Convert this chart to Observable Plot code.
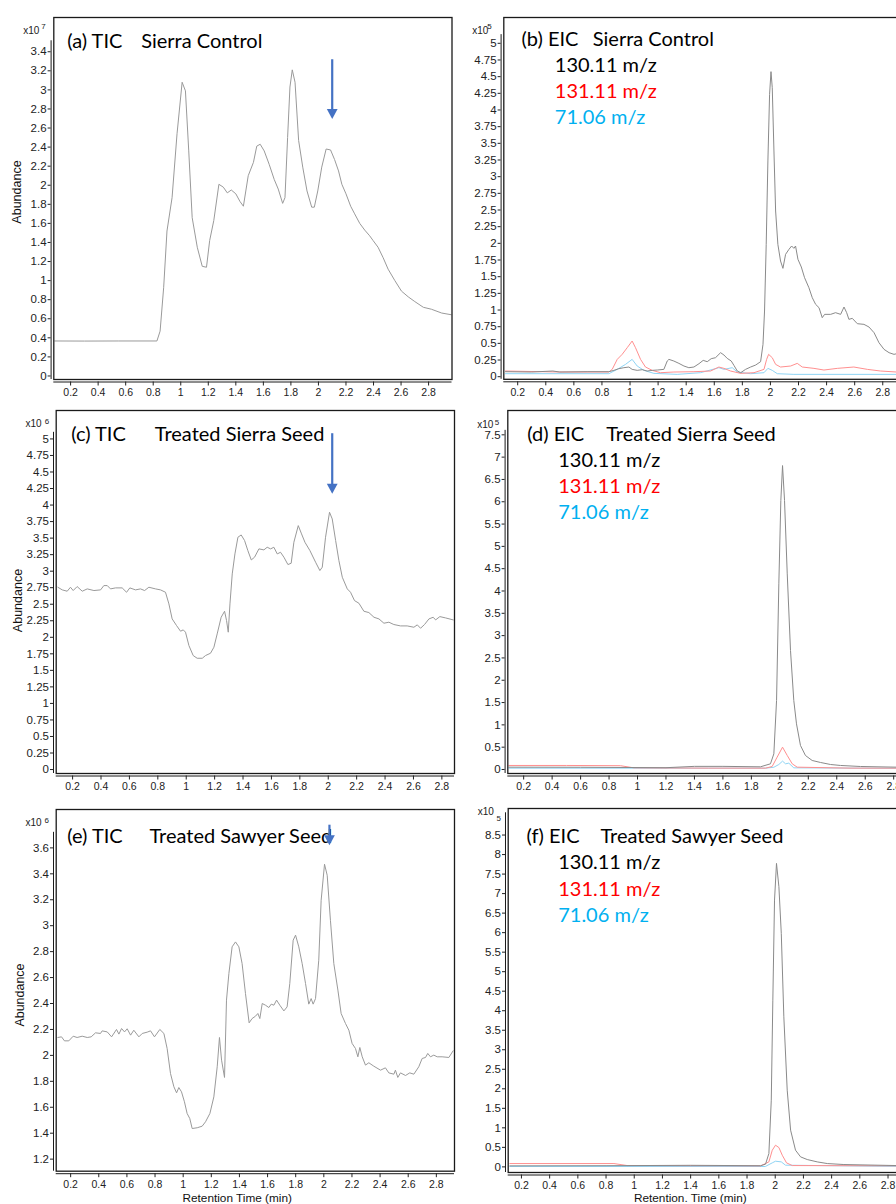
<!DOCTYPE html>
<html>
<head>
<meta charset="utf-8">
<script src="https://cdn.jsdelivr.net/npm/d3@7"></script>
<script src="https://cdn.jsdelivr.net/npm/@observablehq/plot@0.6"></script>
<style>
html, body { margin: 0; padding: 0; background: #fff; overflow: hidden; }
#fig { position: relative; width: 896px; height: 1204px; overflow: hidden; background: #fff; }
.panel { position: absolute; }
</style>
</head>
<body>
<div id="fig"></div>
<script>
// ---------------- DATA ----------------
const xTicks = [0.2, 0.4, 0.6, 0.8, 1, 1.2, 1.4, 1.6, 1.8, 2, 2.2, 2.4, 2.6, 2.8];
const yTicksA = d3.range(0, 3.41, 0.2);
const yTicksB = d3.range(0, 5.01, 0.25);
const yTicksC = d3.range(0, 5.01, 0.25);
const yTicksD = d3.range(0, 7.51, 0.5);
const yTicksE = d3.range(1.2, 3.61, 0.2);
const yTicksF = d3.range(0, 8.51, 0.5);

const titles = ["(a) TIC", "(b) EIC", "(c) TIC", "(d) EIC", "(e) TIC", "(f) EIC"];
const samples = ["Sierra Control", "Sierra Control", "Treated Sierra Seed", "Treated Sierra Seed", "Treated Sawyer Seed", "Treated Sawyer Seed"];
const ionLabels = ["130.11 m/z", "131.11 m/z", "71.06 m/z"];
const exponents = ["7", "5", "6", "5", "6", "5"];
const yTitle = "Abundance";
const xTitles = ["Retention Time (min)", "Retention. Time (min)"];

// (a) TIC Sierra Control, x10^7 [time min, abundance]
const ticSierraControl = [[0.085,0.367],[0.30,0.366],[0.55,0.367],[0.827,0.367],[0.85,0.47],[0.876,0.93],[0.90,1.52],[0.937,1.87],[0.973,2.54],[1.01,3.08],[1.034,2.99],[1.058,2.36],[1.083,1.66],[1.12,1.35],[1.156,1.15],[1.187,1.14],[1.21,1.42],[1.24,1.63],[1.277,2.01],[1.309,1.98],[1.338,1.92],[1.367,1.95],[1.40,1.91],[1.43,1.83],[1.455,1.78],[1.49,2.10],[1.528,2.24],[1.552,2.41],[1.577,2.43],[1.606,2.36],[1.642,2.22],[1.679,2.06],[1.708,1.96],[1.74,1.81],[1.757,1.87],[1.776,2.50],[1.793,3.03],[1.81,3.21],[1.83,3.08],[1.856,2.47],[1.886,2.19],[1.917,1.94],[1.951,1.77],[1.97,1.77],[1.995,1.94],[2.024,2.19],[2.056,2.38],[2.088,2.37],[2.117,2.27],[2.146,2.15],[2.17,2.01],[2.20,1.91],[2.234,1.78],[2.263,1.70],[2.30,1.60],[2.336,1.53],[2.372,1.47],[2.397,1.42],[2.433,1.35],[2.47,1.24],[2.506,1.12],[2.555,1.00],[2.603,0.89],[2.652,0.83],[2.70,0.78],[2.762,0.72],[2.82,0.70],[2.895,0.66],[2.973,0.64]];

// (b) EIC Sierra Control, x10^5
const eicSierra130 = [[0.113,0.075],[0.3,0.07],[0.45,0.085],[0.5,0.07],[0.7,0.075],[0.849,0.075],[0.885,0.095],[0.920,0.12],[0.956,0.135],[0.992,0.145],[1.015,0.11],[1.051,0.095],[1.087,0.105],[1.122,0.085],[1.158,0.095],[1.194,0.10],[1.241,0.11],[1.265,0.235],[1.277,0.26],[1.312,0.235],[1.348,0.20],[1.384,0.16],[1.419,0.135],[1.455,0.145],[1.491,0.195],[1.521,0.245],[1.550,0.225],[1.578,0.27],[1.609,0.285],[1.645,0.36],[1.669,0.325],[1.692,0.275],[1.721,0.235],[1.740,0.17],[1.764,0.085],[1.788,0.06],[1.823,0.11],[1.859,0.145],[1.895,0.175],[1.930,0.225],[1.947,0.485],[1.958,0.985],[1.970,1.985],[1.982,3.235],[1.994,4.235],[2.004,4.575],[2.013,4.335],[2.025,3.385],[2.037,2.485],[2.053,1.985],[2.072,1.735],[2.089,1.625],[2.108,1.835],[2.132,1.91],[2.151,1.96],[2.167,1.925],[2.179,1.96],[2.196,1.76],[2.220,1.645],[2.243,1.485],[2.274,1.335],[2.298,1.185],[2.322,1.085],[2.346,1.035],[2.369,0.885],[2.386,0.935],[2.429,0.935],[2.464,0.96],[2.500,0.935],[2.524,1.045],[2.543,0.96],[2.559,0.86],[2.583,0.875],[2.619,0.795],[2.666,0.785],[2.702,0.745],[2.738,0.66],[2.773,0.51],[2.809,0.41],[2.845,0.36],[2.880,0.335],[2.899,0.345],[2.95,0.33]];
const eicSierra131 = [[0.113,0.085],[0.5,0.07],[0.849,0.07],[0.873,0.11],[0.909,0.26],[0.944,0.335],[0.980,0.435],[1.015,0.535],[1.039,0.435],[1.075,0.26],[1.110,0.145],[1.158,0.095],[1.217,0.06],[1.312,0.07],[1.455,0.075],[1.574,0.085],[1.633,0.145],[1.669,0.125],[1.716,0.085],[1.788,0.05],[1.883,0.06],[1.954,0.11],[1.973,0.26],[1.987,0.335],[2.013,0.285],[2.037,0.185],[2.072,0.145],[2.144,0.16],[2.191,0.20],[2.227,0.145],[2.310,0.125],[2.381,0.10],[2.476,0.125],[2.594,0.145],[2.690,0.11],[2.785,0.085],[2.899,0.07],[2.95,0.07]];
const eicSierra71 = [[0.113,0.045],[0.849,0.045],[0.909,0.11],[0.968,0.185],[1.015,0.26],[1.051,0.16],[1.099,0.095],[1.170,0.05],[1.336,0.035],[1.502,0.06],[1.633,0.135],[1.669,0.11],[1.728,0.135],[1.764,0.07],[1.859,0.045],[1.954,0.06],[1.982,0.125],[2.013,0.095],[2.049,0.045],[2.167,0.035],[2.95,0.035]];

// (c) TIC Treated Sierra Seed, x10^6
const ticSierraSeed = [[0.096,2.757],[0.127,2.717],[0.162,2.697],[0.185,2.757],[0.204,2.707],[0.232,2.767],[0.268,2.697],[0.303,2.732],[0.35,2.707],[0.397,2.717],[0.42,2.782],[0.444,2.782],[0.467,2.732],[0.502,2.747],[0.549,2.747],[0.58,2.681],[0.603,2.747],[0.643,2.717],[0.678,2.732],[0.707,2.707],[0.737,2.757],[0.784,2.732],[0.819,2.717],[0.854,2.681],[0.878,2.505],[0.901,2.278],[0.932,2.177],[0.96,2.092],[0.979,2.112],[0.995,2.077],[1.019,1.875],[1.049,1.724],[1.077,1.683],[1.113,1.683],[1.136,1.724],[1.171,1.759],[1.195,1.85],[1.218,2.051],[1.246,2.303],[1.27,2.394],[1.284,2.253],[1.296,2.077],[1.308,2.505],[1.324,2.959],[1.343,3.261],[1.364,3.513],[1.387,3.548],[1.411,3.463],[1.434,3.311],[1.458,3.17],[1.481,3.211],[1.512,3.337],[1.547,3.322],[1.57,3.362],[1.594,3.337],[1.617,3.362],[1.641,3.261],[1.664,3.286],[1.688,3.211],[1.716,3.1],[1.739,3.12],[1.758,3.437],[1.789,3.689],[1.812,3.564],[1.836,3.437],[1.871,3.311],[1.911,3.135],[1.941,3.009],[1.958,3.06],[1.981,3.513],[2.009,3.891],[2.028,3.79],[2.052,3.463],[2.075,3.16],[2.099,2.908],[2.134,2.732],[2.157,2.681],[2.185,2.555],[2.216,2.515],[2.251,2.394],[2.286,2.374],[2.322,2.303],[2.357,2.278],[2.392,2.213],[2.427,2.228],[2.462,2.193],[2.509,2.172],[2.556,2.172],[2.603,2.152],[2.627,2.188],[2.65,2.137],[2.678,2.193],[2.709,2.278],[2.739,2.303],[2.756,2.263],[2.786,2.313],[2.826,2.293],[2.88,2.263]];

// (d) EIC Treated Sierra Seed, x10^5
const eicSierraSeed130 = [[0.096,0.052],[0.6,0.05],[1.2,0.04],[1.4,0.07],[1.6,0.07],[1.864,0.06],[1.934,0.127],[1.958,0.351],[1.977,1.546],[1.993,4.16],[2.007,6.027],[2.019,6.811],[2.033,6.027],[2.052,4.384],[2.075,2.666],[2.098,1.546],[2.117,1.023],[2.145,0.538],[2.18,0.314],[2.227,0.202],[2.286,0.157],[2.356,0.112],[2.426,0.09],[2.567,0.067],[2.82,0.052],[2.9,0.05]];
const eicSierraSeed131 = [[0.096,0.09],[0.5,0.09],[0.88,0.085],[0.974,0.037],[1.5,0.03],[1.9,0.03],[1.946,0.067],[1.981,0.276],[2.019,0.50],[2.052,0.314],[2.087,0.127],[2.122,0.052],[2.5,0.03],[2.9,0.03]];
const eicSierraSeed71 = [[0.096,0.03],[1.9,0.03],[1.958,0.05],[1.993,0.112],[2.019,0.187],[2.04,0.127],[2.063,0.142],[2.098,0.037],[2.9,0.025]];

// (e) TIC Treated Sawyer Seed, x10^6
const ticSawyerSeed = [[0.109,2.138],[0.135,2.143],[0.156,2.112],[0.187,2.112],[0.218,2.148],[0.246,2.138],[0.282,2.148],[0.318,2.138],[0.346,2.143],[0.377,2.174],[0.412,2.169],[0.424,2.189],[0.46,2.181],[0.491,2.143],[0.526,2.2],[0.543,2.164],[0.562,2.207],[0.583,2.181],[0.602,2.205],[0.626,2.156],[0.649,2.194],[0.685,2.143],[0.709,2.169],[0.744,2.179],[0.768,2.189],[0.796,2.143],[0.834,2.2],[0.863,2.169],[0.886,2.053],[0.91,1.86],[0.934,1.758],[0.953,1.711],[0.969,1.752],[0.988,1.719],[1.009,1.642],[1.028,1.552],[1.047,1.513],[1.064,1.436],[1.1,1.442],[1.135,1.454],[1.159,1.488],[1.19,1.552],[1.218,1.68],[1.242,1.912],[1.258,2.138],[1.273,1.963],[1.294,1.83],[1.308,2.426],[1.325,2.631],[1.348,2.837],[1.372,2.875],[1.396,2.837],[1.419,2.708],[1.443,2.477],[1.469,2.251],[1.49,2.284],[1.514,2.302],[1.531,2.323],[1.545,2.284],[1.562,2.4],[1.585,2.387],[1.609,2.369],[1.626,2.395],[1.645,2.387],[1.664,2.426],[1.687,2.387],[1.716,2.343],[1.739,2.374],[1.758,2.554],[1.782,2.888],[1.799,2.927],[1.822,2.837],[1.846,2.708],[1.87,2.554],[1.893,2.395],[1.91,2.438],[1.924,2.395],[1.941,2.438],[1.964,2.734],[1.981,3.196],[2.005,3.474],[2.024,3.389],[2.047,3.042],[2.071,2.708],[2.1,2.503],[2.123,2.323],[2.154,2.246],[2.178,2.194],[2.201,2.092],[2.225,2.053],[2.242,1.989],[2.256,2.061],[2.273,1.989],[2.296,1.925],[2.32,1.943],[2.355,1.917],[2.403,1.886],[2.438,1.904],[2.462,1.865],[2.498,1.855],[2.509,1.886],[2.526,1.83],[2.545,1.865],[2.581,1.845],[2.611,1.865],[2.64,1.855],[2.675,1.912],[2.699,1.976],[2.723,1.984],[2.739,2.015],[2.758,1.989],[2.782,2.002],[2.806,1.989],[2.841,1.989],[2.889,1.984],[2.919,2.035]];

// (f) EIC Treated Sawyer Seed, x10^5
const eicSawyerSeed130 = [[0.118,0.026],[0.8,0.03],[1.4,0.04],[1.896,0.03],[1.931,0.068],[1.955,0.342],[1.972,1.708],[1.983,4.27],[1.995,6.834],[2.009,7.774],[2.026,7.176],[2.043,5.98],[2.061,3.844],[2.085,1.965],[2.109,0.94],[2.144,0.427],[2.18,0.256],[2.227,0.188],[2.298,0.128],[2.369,0.085],[2.487,0.06],[2.86,0.034],[2.92,0.034]];
const eicSawyerSeed131 = [[0.118,0.085],[0.856,0.085],[0.95,0.034],[1.896,0.026],[1.955,0.128],[1.979,0.427],[2.002,0.555],[2.026,0.495],[2.05,0.299],[2.08,0.103],[2.121,0.034],[2.92,0.026]];
const eicSawyerSeed71 = [[0.118,0.01],[1.93,0.01],[1.979,0.103],[2.002,0.145],[2.043,0.128],[2.073,0.043],[2.92,0.01]];

// arrows marking the peak of interest [time, top, tip]
const arrowA = [{t: 2.10, top: 3.316, tip: 2.694}];
const arrowC = [{t: 2.028, top: 5.079, tip: 4.171}];
const arrowE = [{t: 2.04, top: 3.775, tip: 3.62}];

// ---------------- RENDER ----------------
const fmt = d => String(+(+d).toFixed(2));
const ionColors = ["#000000", "#FF0000", "#00B0F0"];
const traceColors = ["#8a8a8a", "#ff8f8f", "#8fd4f4"];
const ticColor = "#9a9a9a";
const titleFont = "Lato, 'Open Sans', sans-serif";
const axisFont = "'Liberation Sans', Arial, Helvetica, sans-serif";
const arrowColor = "#4472C4";

const downTriangle = {
  draw(context, size) {
    const r = Math.sqrt(size / Math.PI);
    const hw = r * 1.35, h = r * 2.5;
    context.moveTo(0, 0);
    context.lineTo(-hw, -h);
    context.lineTo(hw, -h);
    context.closePath();
  }
};

function label(text, opts) {
  return Plot.text([text], {text: d => d, frameAnchor: "top-left", lineAnchor: "bottom", textAnchor: "start", ...opts});
}

function makePanel(cfg) {
  const {svgLeft, L, T, R, B, xDomain, yDomain, yTicks, axisTop, series, idx, tDx, sDx, tDy, exp, legend, arrow, yLab, xLab} = cfg;
  const mT = 16, mR = 12, mB = 34;
  const width = R - svgLeft + mR;
  const height = B - T + mT + mB;
  const marks = [
    Plot.ruleX([{x: xDomain[0], y1: yDomain[0], y2: axisTop}], {x: "x", y1: "y1", y2: "y2", dx: -2.7, stroke: "#1a1a1a", strokeWidth: 1}),
    Plot.ruleY([yDomain[0]], {dy: 2.5, stroke: "#1a1a1a", strokeWidth: 1}),
    Plot.axisY(yTicks, {tickSize: 3, tickPadding: 1.5, dx: -2.7, fontSize: 11.5, fontFamily: axisFont, tickFormat: fmt, label: null, color: "#222"}),
    Plot.axisX(xTicks, {tickSize: 4, tickPadding: 2.5, dy: 2.5, fontSize: 10.5, fontFamily: axisFont, tickFormat: fmt, label: null, color: "#222"}),
  ];
  series.forEach((s) => {
    marks.push(Plot.line(s.data, {x: d => d[0], y: d => d[1], stroke: s.color, strokeWidth: s.width || 1, clip: true}));
  });
  marks.push(Plot.frame({stroke: "#1a1a1a", strokeWidth: 1.3}));
  marks.push(label(titles[idx], {dx: tDx, dy: tDy, fontSize: 20, fontFamily: titleFont, fill: "#000"}));
  marks.push(label(samples[idx], {dx: sDx, dy: tDy, fontSize: 20, fontFamily: titleFont, fill: "#000"}));
  if (legend) {
    ionLabels.forEach((t, i) => {
      marks.push(label(t, {dx: legend.dx, dy: legend.dy + i * legend.step, fontSize: 20, fontFamily: titleFont, fill: ionColors[i]}));
    });
  }
  marks.push(label("x10", {dx: exp.dx, dy: exp.dy, fontSize: 10, fontFamily: axisFont, fill: "#222"}));
  marks.push(label(exponents[idx], {dx: exp.sdx, dy: exp.sdy, fontSize: 8, fontFamily: axisFont, fill: "#222"}));
  if (yLab) {
    marks.push(Plot.text([yTitle], {text: d => d, frameAnchor: "left", rotate: -90, lineAnchor: "bottom", textAnchor: "middle", dx: yLab.dx, dy: yLab.dy, fontSize: 12.5, fontFamily: axisFont, fill: "#111"}));
  }
  if (xLab) {
    marks.push(Plot.text([xLab.text], {text: d => d, frameAnchor: "bottom-left", lineAnchor: "bottom", textAnchor: "middle", dx: xLab.dx, dy: xLab.dy, fontSize: 11.8, fontFamily: axisFont, fill: "#111"}));
  }
  if (arrow) {
    marks.push(Plot.ruleX(arrow, {x: "t", y1: "top", y2: "tip", insetBottom: 8, stroke: arrowColor, strokeWidth: 2.2}));
    marks.push(Plot.dot(arrow, {x: "t", y: "tip", symbol: downTriangle, r: 4, fill: arrowColor, stroke: "none"}));
  }
  const svg = Plot.plot({
    width, height,
    marginLeft: L - svgLeft, marginTop: mT, marginRight: mR, marginBottom: mB,
    style: {overflow: "visible", maxWidth: "none", background: "transparent", fontFamily: axisFont, fontSize: "11px"},
    x: {domain: xDomain},
    y: {domain: yDomain},
    marks
  });
  const div = document.createElement("div");
  div.className = "panel";
  div.style.left = svgLeft + "px";
  div.style.top = (T - mT) + "px";
  div.appendChild(svg);
  document.getElementById("fig").appendChild(div);
}

makePanel({idx: 0, svgLeft: 0, L: 53.3, T: 16.5, R: 451.5, B: 378.5,
  xDomain: [0.078, 2.970], yDomain: [-0.037, 3.759], yTicks: yTicksA, axisTop: 3.515,
  series: [{data: ticSierraControl, color: ticColor}],
  tDx: 13.4, sDx: 87.4, tDy: 30.8,
  exp: {dx: -30.6, dy: 16.8, sdx: -12.6, sdy: 11.8},
  arrow: arrowA, yLab: {dx: -33.3, dy: -6.5}});

makePanel({idx: 1, svgLeft: 460, L: 503.3, T: 16.5, R: 905, B: 378.3,
  xDomain: [0.101, 2.962], yDomain: [-0.039, 5.387], yTicks: yTicksB, axisTop: 5.13,
  series: [{data: eicSierra71, color: traceColors[2]}, {data: eicSierra131, color: traceColors[1]}, {data: eicSierra130, color: traceColors[0]}],
  tDx: 17.7, sDx: 89, tDy: 28.5,
  legend: {dx: 51, dy: 54.5, step: 26.2},
  exp: {dx: -31.6, dy: 16.8, sdx: -16.6, sdy: 11.3}});

makePanel({idx: 2, svgLeft: 0, L: 55.7, T: 410, R: 454, B: 773,
  xDomain: [0.0845, 2.889], yDomain: [-0.06, 5.43], yTicks: yTicksC, axisTop: 5.10,
  series: [{data: ticSierraSeed, color: ticColor}],
  tDx: 15, sDx: 98.6, tDy: 30.7,
  exp: {dx: -30.7, dy: 16.7, sdx: -11.4, sdy: 13.3},
  arrow: arrowC, yLab: {dx: -34.2, dy: 8.5}});

makePanel({idx: 3, svgLeft: 460, L: 507.3, T: 410, R: 905, B: 773,
  xDomain: [0.0885, 2.883], yDomain: [-0.09, 8.045], yTicks: yTicksD, axisTop: 7.6,
  series: [{data: eicSierraSeed71, color: traceColors[2]}, {data: eicSierraSeed131, color: traceColors[1]}, {data: eicSierraSeed130, color: traceColors[0]}],
  tDx: 19.4, sDx: 98.4, tDy: 30,
  legend: {dx: 50.4, dy: 56, step: 26.2},
  exp: {dx: -30.6, dy: 17.3, sdx: -13, sdy: 14}});

makePanel({idx: 4, svgLeft: 0, L: 55.7, T: 809.3, R: 454, B: 1171,
  xDomain: [0.0973, 2.929], yDomain: [1.107, 3.896], yTicks: yTicksE, axisTop: 3.72,
  series: [{data: ticSawyerSeed, color: ticColor}],
  tDx: 11, sDx: 93.3, tDy: 34,
  exp: {dx: -30.7, dy: 16.7, sdx: -11.7, sdy: 13.4},
  arrow: arrowE, yLab: {dx: -32.7, dy: 4.7},
  xLab: {text: xTitles[0], dx: 181, dy: 30.8}});

makePanel({idx: 5, svgLeft: 460, L: 507.7, T: 808.3, R: 905, B: 1172.3,
  xDomain: [0.106, 2.924], yDomain: [-0.144, 9.18], yTicks: yTicksF, axisTop: 9.07,
  series: [{data: eicSawyerSeed71, color: traceColors[2]}, {data: eicSawyerSeed131, color: traceColors[1]}, {data: eicSawyerSeed130, color: traceColors[0]}],
  tDx: 18.3, sDx: 92.3, tDy: 34.4,
  legend: {dx: 50, dy: 60.7, step: 26.3},
  exp: {dx: -30.4, dy: 6.7, sdx: -11.7, sdy: 12.4},
  xLab: {text: xTitles[1], dx: 182.1, dy: 29.5}});
</script>
</body>
</html>
